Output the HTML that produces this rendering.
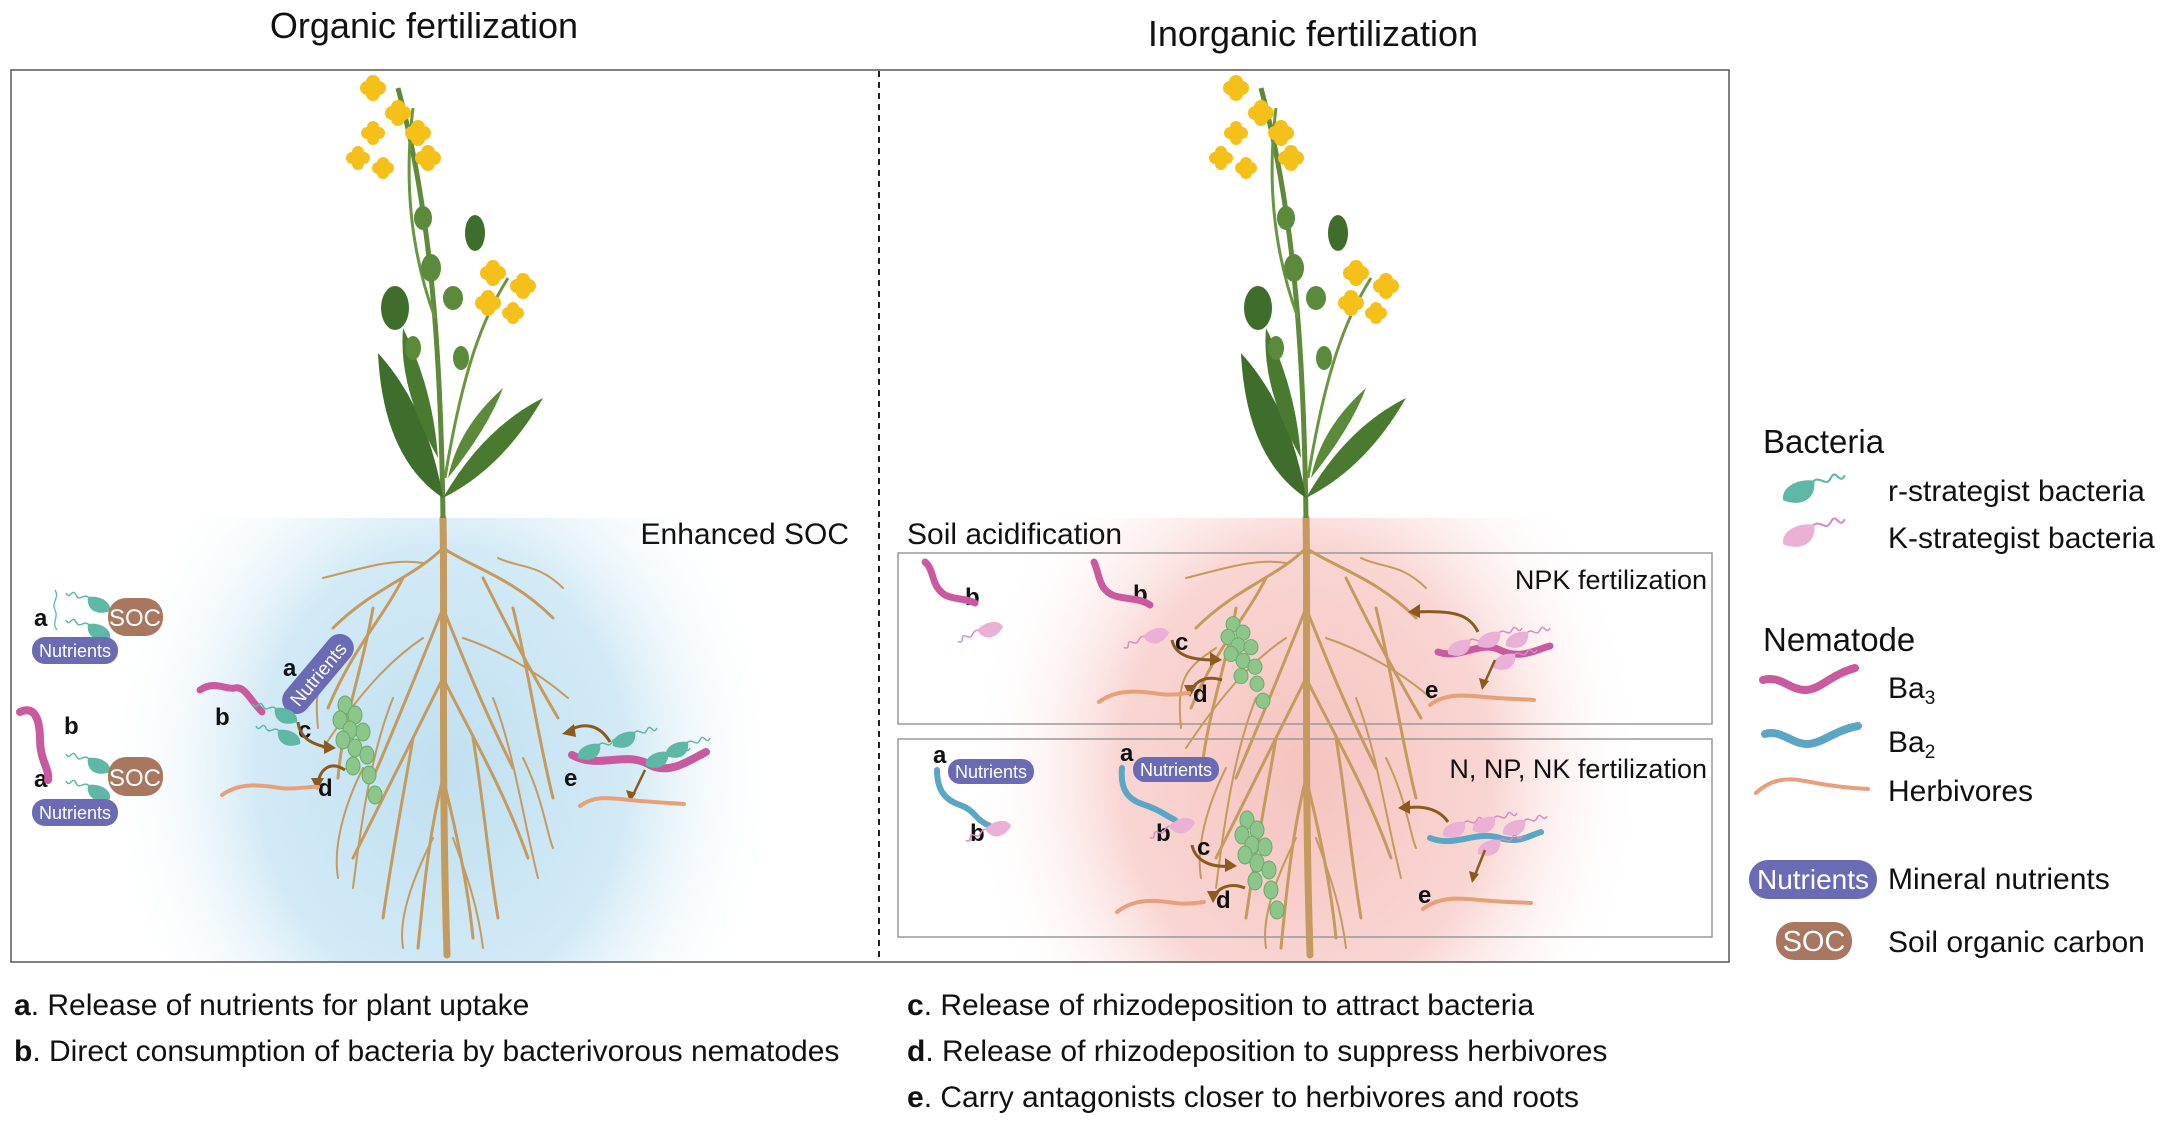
<!DOCTYPE html>
<html><head><meta charset="utf-8"><style>
html,body{margin:0;padding:0;background:#fff;}
svg{display:block;font-family:"Liberation Sans",Arial,sans-serif;}
</style></head><body>
<svg width="2167" height="1125" viewBox="0 0 2167 1125" xmlns="http://www.w3.org/2000/svg">
<defs>
<radialGradient id="gb" cx="442" cy="770" r="340" gradientUnits="userSpaceOnUse" gradientTransform="translate(442 770) scale(1 1.2) translate(-442 -770)">
<stop offset="0" stop-color="#bfe0f1"/><stop offset="0.55" stop-color="#d3eaf6"/><stop offset="1" stop-color="#ffffff" stop-opacity="0"/></radialGradient>
<radialGradient id="gp" cx="1306" cy="770" r="340" gradientUnits="userSpaceOnUse" gradientTransform="translate(1306 770) scale(1 1.2) translate(-1306 -770)">
<stop offset="0" stop-color="#f6c3c0"/><stop offset="0.55" stop-color="#f9d6d3"/><stop offset="1" stop-color="#ffffff" stop-opacity="0"/></radialGradient>
<g id="roots" fill="none" stroke="#c49a5e" stroke-linecap="round">
<path d="M0,0 C2,100 -2,250 4,437" stroke-width="7"/>
<g stroke-width="3">
<path d="M0,30 C-30,60 -70,70 -110,110"/><path d="M0,30 C30,50 70,60 110,100"/>
<path d="M-40,60 C-60,100 -90,130 -115,190"/><path d="M40,60 C60,100 80,140 115,200"/>
<path d="M0,90 C-20,140 -40,190 -70,260"/><path d="M0,90 C20,140 40,190 70,250"/>
<path d="M-70,90 C-80,150 -100,200 -105,260"/><path d="M70,90 C85,150 95,220 110,280"/>
<path d="M0,160 C-30,220 -60,280 -90,340"/><path d="M0,160 C30,220 60,270 85,340"/>
<path d="M-30,220 C-40,280 -50,330 -60,400"/><path d="M30,220 C40,280 45,340 55,400"/>
<path d="M0,260 C-15,320 -20,380 -25,430"/><path d="M0,260 C15,320 25,370 30,420"/>
</g>
<g stroke-width="2">
<path d="M-90,130 C-120,150 -130,160 -125,210"/><path d="M55,40 C75,50 95,45 120,70"/>
<path d="M-20,45 C-50,40 -80,50 -120,60"/><path d="M20,120 C50,130 90,150 125,180"/>
<path d="M-20,120 C-50,140 -80,170 -120,230"/><path d="M-50,180 C-70,230 -80,290 -90,370"/>
<path d="M50,180 C70,230 80,300 95,360"/><path d="M-10,320 C-30,360 -45,400 -40,430"/>
<path d="M10,320 C25,360 35,390 40,430"/><path d="M-80,250 C-100,290 -110,330 -105,360"/>
<path d="M80,240 C100,280 105,320 110,330"/>
</g></g>
<g id="shoot">
<path d="M0,0 C-2,-150 -10,-300 -45,-430" stroke="#5e8a3a" stroke-width="5" fill="none"/>
<path d="M2,-40 C20,-150 40,-200 65,-240" stroke="#6a9640" stroke-width="3" fill="none"/>
<path d="M-8,-200 C-30,-260 -40,-330 -30,-410" stroke="#6a9640" stroke-width="3" fill="none"/>
<path d="M0,-20 Q-60,-60 -65,-165 Q-15,-110 0,-20Z" fill="#3f6e2c"/>
<path d="M0,-20 Q60,-50 100,-120 Q40,-90 0,-20Z" fill="#4a7a30"/>
<path d="M5,-40 Q45,-90 60,-130 Q15,-90 5,-40Z" fill="#5a8a3a"/>
<path d="M-5,-60 Q-45,-130 -40,-190 Q-10,-130 -5,-60Z" fill="#4a7a30"/>
<ellipse cx="-48" cy="-210" rx="14" ry="22" fill="#3f6e2c"/>
<ellipse cx="32" cy="-285" rx="10" ry="18" fill="#3f6e2c"/>
<ellipse cx="-12" cy="-250" rx="10" ry="14" fill="#5a8a3a"/>
<ellipse cx="10" cy="-220" rx="10" ry="12" fill="#5a8a3a"/>
<ellipse cx="-20" cy="-300" rx="9" ry="12" fill="#5a8a3a"/>
<ellipse cx="-30" cy="-170" rx="8" ry="12" fill="#5a8a3a"/>
<ellipse cx="18" cy="-160" rx="8" ry="12" fill="#5a8a3a"/>
<g fill="#f5c01a">
<g transform="translate(-70,-430)"><circle cx="-6" cy="0" r="7"/><circle cx="6" cy="0" r="7"/><circle cx="0" cy="-6" r="7"/><circle cx="0" cy="6" r="7"/></g>
<g transform="translate(-45,-405)"><circle cx="-6" cy="0" r="7"/><circle cx="6" cy="0" r="7"/><circle cx="0" cy="-6" r="7"/><circle cx="0" cy="6" r="7"/></g>
<g transform="translate(-70,-385)"><circle cx="-6" cy="0" r="6"/><circle cx="6" cy="0" r="6"/><circle cx="0" cy="-6" r="6"/><circle cx="0" cy="6" r="6"/></g>
<g transform="translate(-25,-385)"><circle cx="-6" cy="0" r="7"/><circle cx="6" cy="0" r="7"/><circle cx="0" cy="-6" r="7"/><circle cx="0" cy="6" r="7"/></g>
<g transform="translate(-85,-360)"><circle cx="-6" cy="0" r="6"/><circle cx="6" cy="0" r="6"/><circle cx="0" cy="-6" r="6"/><circle cx="0" cy="6" r="6"/></g>
<g transform="translate(-15,-360)"><circle cx="-6" cy="0" r="7"/><circle cx="6" cy="0" r="7"/><circle cx="0" cy="-6" r="7"/><circle cx="0" cy="6" r="7"/></g>
<g transform="translate(-60,-350)"><circle cx="-5" cy="0" r="6"/><circle cx="5" cy="0" r="6"/><circle cx="0" cy="-5" r="6"/><circle cx="0" cy="5" r="6"/></g>
<g transform="translate(50,-245)"><circle cx="-6" cy="0" r="7"/><circle cx="6" cy="0" r="7"/><circle cx="0" cy="-6" r="7"/><circle cx="0" cy="6" r="7"/></g>
<g transform="translate(80,-232)"><circle cx="-6" cy="0" r="7"/><circle cx="6" cy="0" r="7"/><circle cx="0" cy="-6" r="7"/><circle cx="0" cy="6" r="7"/></g>
<g transform="translate(45,-215)"><circle cx="-6" cy="0" r="7"/><circle cx="6" cy="0" r="7"/><circle cx="0" cy="-6" r="7"/><circle cx="0" cy="6" r="7"/></g>
<g transform="translate(70,-205)"><circle cx="-5" cy="0" r="6"/><circle cx="5" cy="0" r="6"/><circle cx="0" cy="-5" r="6"/><circle cx="0" cy="5" r="6"/></g>
</g></g>
<g id="rbac"><path d="M8,-6 c6,-8 10,4 14,-4 s6,6 10,-2" stroke="#5fb8a6" stroke-width="1.5" fill="none"/><path d="M-12,6 C-14,-4 0,-10 10,-8 C12,2 4,12 -12,6Z" fill="#5fb8a6"/></g>
<g id="kbac"><path d="M8,-6 c6,-8 10,4 14,-4 s6,6 10,-2" stroke="#d98cc0" stroke-width="1.5" fill="none"/><path d="M-12,6 C-14,-4 0,-10 10,-8 C12,2 4,12 -12,6Z" fill="#eab0d6"/></g>
<g id="clu" fill="#8cc68a" stroke="#6aa86a" stroke-width="1"><ellipse cx="10" cy="5" rx="7" ry="9"/><ellipse cx="20" cy="15" rx="7" ry="9"/><ellipse cx="5" cy="20" rx="7" ry="9"/><ellipse cx="15" cy="30" rx="7" ry="9"/><ellipse cx="28" cy="32" rx="7" ry="9"/><ellipse cx="8" cy="40" rx="7" ry="9"/><ellipse cx="20" cy="48" rx="7" ry="9"/><ellipse cx="32" cy="55" rx="7" ry="9"/><ellipse cx="18" cy="66" rx="7" ry="9"/><ellipse cx="34" cy="75" rx="7" ry="9"/><ellipse cx="40" cy="95" rx="7" ry="9"/></g>
</defs>
<rect x="12" y="518" width="866" height="443" fill="url(#gb)"/>
<rect x="880" y="518" width="848" height="443" fill="url(#gp)"/>
<rect x="11" y="70" width="1718" height="892" fill="none" stroke="#555" stroke-width="1.5"/>
<line x1="879" y1="71" x2="879" y2="961" stroke="#222" stroke-width="2" stroke-dasharray="6,5"/>
<rect x="898" y="553" width="814" height="171" fill="none" stroke="#999" stroke-width="1.5"/>
<rect x="898" y="739" width="814" height="198" fill="none" stroke="#999" stroke-width="1.5"/>
<use href="#roots" transform="translate(443,518)"/>
<use href="#shoot" transform="translate(443,518)"/>
<use href="#roots" transform="translate(1306,518)"/>
<use href="#shoot" transform="translate(1306,518)"/>
<g fill="#111" font-size="36" text-anchor="middle"><text x="424" y="38">Organic fertilization</text><text x="1313" y="46">Inorganic fertilization</text></g>
<g fill="#111" font-size="30"><text x="849" y="544" text-anchor="end">Enhanced SOC</text><text x="907" y="544">Soil acidification</text></g>
<g fill="#111" font-size="27" text-anchor="end"><text x="1707" y="589">NPK fertilization</text><text x="1707" y="778">N, NP, NK fertilization</text></g>
<g font-weight="bold" font-size="24" fill="#111">
<text x="34" y="626">a</text><text x="64" y="734">b</text><text x="34" y="787">a</text>
<text x="283" y="676">a</text><text x="215" y="725">b</text><text x="298" y="738">c</text><text x="318" y="796">d</text><text x="564" y="786">e</text>
</g>
<path d="M55,590 c5,8 -4,12 0,20 s-4,12 2,20" stroke="#5fb8a6" stroke-width="1.3" fill="none"/>
<use href="#rbac" transform="translate(98,605) scale(-1,1)"/><use href="#rbac" transform="translate(98,632) scale(-1,1)"/>
<rect x="108" y="598" width="55" height="38" rx="18" fill="#a9775f"/><text x="135" y="626" font-size="24" fill="#fff" text-anchor="middle">SOC</text>
<rect x="32" y="637" width="86" height="27" rx="13" fill="#6b6bb5"/><text x="75" y="657" font-size="18" fill="#fff" text-anchor="middle">Nutrients</text>
<path d="M20,712 C35,705 40,720 40,740 C40,760 50,770 48,780" stroke="#c95aa0" stroke-width="8" fill="none" stroke-linecap="round"/>
<use href="#rbac" transform="translate(98,766) scale(-1,1)"/><use href="#rbac" transform="translate(98,793) scale(-1,1)"/>
<rect x="108" y="757" width="55" height="39" rx="18" fill="#a9775f"/><text x="135" y="786" font-size="24" fill="#fff" text-anchor="middle">SOC</text>
<rect x="32" y="799" width="86" height="27" rx="13" fill="#6b6bb5"/><text x="75" y="819" font-size="18" fill="#fff" text-anchor="middle">Nutrients</text>
<g transform="translate(318,674) rotate(-50)"><rect x="-48" y="-14" width="96" height="28" rx="14" fill="#6b6bb5"/><text x="0" y="7" font-size="19" fill="#fff" text-anchor="middle">Nutrients</text></g>
<path d="M200,690 C215,680 225,690 235,688 C245,686 250,700 262,712" stroke="#c95aa0" stroke-width="7" fill="none" stroke-linecap="round"/>
<use href="#rbac" transform="translate(285,716) scale(-1,1)"/><use href="#rbac" transform="translate(288,738) scale(-1,1)"/>
<use href="#clu" transform="translate(335,700)"/>
<path d="M298,722 C300,740 315,745 330,748" stroke="#8a5a1e" stroke-width="3" fill="none"/><path d="M336,748 l-12,-8 l0,14z" fill="#8a5a1e"/>
<path d="M345,770 C330,760 320,770 318,783" stroke="#8a5a1e" stroke-width="3" fill="none"/><path d="M317,790 l-6,-12 l13,0z" fill="#8a5a1e"/>
<path d="M222,795 C240,782 260,785 280,788 C295,790 310,786 318,787" stroke="#e8a07a" stroke-width="4" fill="none" stroke-linecap="round"/>
<path d="M610,742 C600,725 585,722 570,730" stroke="#8a5a1e" stroke-width="3" fill="none"/><path d="M562,734 l12,-10 l2,13z" fill="#8a5a1e"/>
<path d="M572,755 C600,770 625,750 650,765 C670,775 690,760 706,752" stroke="#c95aa0" stroke-width="8" fill="none" stroke-linecap="round"/>
<use href="#rbac" transform="translate(590,752)"/><use href="#rbac" transform="translate(625,740)"/><use href="#rbac" transform="translate(658,760)"/><use href="#rbac" transform="translate(678,750)"/>
<path d="M645,770 L633,795" stroke="#8a5a1e" stroke-width="2.5"/><path d="M630,802 l-4,-12 l10,3z" fill="#8a5a1e"/>
<path d="M580,806 C595,795 610,798 630,800 C650,802 670,803 684,804" stroke="#e8a07a" stroke-width="4" fill="none" stroke-linecap="round"/>
<g font-weight="bold" font-size="24" fill="#111">
<text x="965" y="605">b</text><text x="1133" y="602">b</text><text x="1175" y="650">c</text><text x="1193" y="702">d</text><text x="1425" y="698">e</text>
<text x="933" y="763">a</text><text x="1120" y="761">a</text><text x="970" y="841">b</text><text x="1156" y="841">b</text><text x="1197" y="855">c</text><text x="1216" y="908">d</text><text x="1418" y="903">e</text>
</g>
<path d="M925,562 C935,570 930,585 945,595 C955,600 965,598 975,603" stroke="#c95aa0" stroke-width="7" fill="none" stroke-linecap="round"/>
<use href="#kbac" transform="translate(990,630) rotate(-40) scale(-1,1)"/>
<path d="M1094,562 C1100,575 1098,590 1115,596 C1130,600 1140,598 1150,605" stroke="#c95aa0" stroke-width="7" fill="none" stroke-linecap="round"/>
<use href="#kbac" transform="translate(1156,636) rotate(-40) scale(-1,1)"/>
<use href="#clu" transform="translate(1223,620) scale(1,0.85)"/>
<path d="M1172,640 C1175,655 1190,660 1215,660" stroke="#8a5a1e" stroke-width="3" fill="none"/><path d="M1222,660 l-12,-8 l0,14z" fill="#8a5a1e"/>
<path d="M1222,680 C1205,675 1195,682 1192,690" stroke="#8a5a1e" stroke-width="3" fill="none"/><path d="M1190,697 l-6,-12 l13,0z" fill="#8a5a1e"/>
<path d="M1099,702 C1115,690 1135,690 1160,694 C1175,696 1185,693 1189,693" stroke="#e8a07a" stroke-width="4" fill="none" stroke-linecap="round"/>
<path d="M1478,632 C1470,615 1455,610 1415,612" stroke="#8a5a1e" stroke-width="3" fill="none"/><path d="M1408,612 l12,-8 l0,14z" fill="#8a5a1e"/>
<path d="M1438,652 C1460,660 1480,640 1500,650 C1520,660 1535,650 1550,646" stroke="#c95aa0" stroke-width="7" fill="none" stroke-linecap="round"/>
<use href="#kbac" transform="translate(1460,648)"/><use href="#kbac" transform="translate(1490,640)"/><use href="#kbac" transform="translate(1518,640)"/><use href="#kbac" transform="translate(1505,662)"/>
<path d="M1495,660 L1485,682" stroke="#8a5a1e" stroke-width="2.5"/><path d="M1482,690 l-3,-12 l10,3z" fill="#8a5a1e"/>
<path d="M1430,705 C1445,693 1465,695 1485,697 C1505,699 1520,699 1534,700" stroke="#e8a07a" stroke-width="4" fill="none" stroke-linecap="round"/>
<rect x="948" y="759" width="86" height="25" rx="12" fill="#6b6bb5"/><text x="991" y="778" font-size="18" fill="#fff" text-anchor="middle">Nutrients</text>
<path d="M937,770 C937,790 945,800 960,805 C975,810 975,820 990,826" stroke="#5aa6c4" stroke-width="6" fill="none" stroke-linecap="round"/>
<use href="#kbac" transform="translate(998,829) rotate(-40) scale(-1,1)"/>
<rect x="1133" y="757" width="86" height="25" rx="12" fill="#6b6bb5"/><text x="1176" y="776" font-size="18" fill="#fff" text-anchor="middle">Nutrients</text>
<path d="M1122,768 C1120,790 1128,800 1145,805 C1160,810 1165,815 1175,820" stroke="#5aa6c4" stroke-width="6" fill="none" stroke-linecap="round"/>
<use href="#kbac" transform="translate(1182,826) rotate(-40) scale(-1,1)"/>
<use href="#clu" transform="translate(1237,815)"/>
<path d="M1192,845 C1195,860 1210,868 1230,866" stroke="#8a5a1e" stroke-width="3" fill="none"/><path d="M1237,866 l-12,-8 l0,14z" fill="#8a5a1e"/>
<path d="M1245,888 C1230,882 1218,888 1215,896" stroke="#8a5a1e" stroke-width="3" fill="none"/><path d="M1213,903 l-6,-12 l13,0z" fill="#8a5a1e"/>
<path d="M1117,912 C1135,898 1155,900 1175,903 C1190,905 1200,902 1204,902" stroke="#e8a07a" stroke-width="4" fill="none" stroke-linecap="round"/>
<path d="M1448,822 C1440,810 1425,805 1405,808" stroke="#8a5a1e" stroke-width="3" fill="none"/><path d="M1398,808 l12,-8 l0,14z" fill="#8a5a1e"/>
<path d="M1430,838 C1455,848 1475,830 1500,838 C1520,844 1530,835 1541,832" stroke="#5aa6c4" stroke-width="6" fill="none" stroke-linecap="round"/>
<use href="#kbac" transform="translate(1455,830)"/><use href="#kbac" transform="translate(1485,825)"/><use href="#kbac" transform="translate(1515,828)"/><use href="#kbac" transform="translate(1490,848)"/>
<path d="M1485,850 L1475,875" stroke="#8a5a1e" stroke-width="2.5"/><path d="M1472,883 l-3,-12 l10,3z" fill="#8a5a1e"/>
<path d="M1423,909 C1440,896 1460,898 1480,900 C1500,902 1515,902 1531,903" stroke="#e8a07a" stroke-width="4" fill="none" stroke-linecap="round"/>
<g fill="#111" font-size="33"><text x="1763" y="453">Bacteria</text><text x="1763" y="651">Nematode</text></g>
<g fill="#111" font-size="30">
<text x="1888" y="501">r-strategist bacteria</text><text x="1888" y="548">K-strategist bacteria</text>
<text x="1888" y="698">Ba<tspan font-size="19" dy="6">3</tspan></text><text x="1888" y="752">Ba<tspan font-size="19" dy="6">2</tspan></text>
<text x="1888" y="801">Herbivores</text><text x="1888" y="889">Mineral nutrients</text><text x="1888" y="952">Soil organic carbon</text>
</g>
<g transform="translate(1800,492) scale(1.4)"><use href="#rbac"/></g>
<g transform="translate(1800,536) scale(1.4)"><use href="#kbac"/></g>
<path d="M1763,680 C1780,675 1790,690 1805,690 C1820,690 1830,675 1855,668" stroke="#c95aa0" stroke-width="8" fill="none" stroke-linecap="round"/>
<path d="M1765,734 C1780,729 1792,744 1807,744 C1822,744 1835,730 1858,726" stroke="#5aa6c4" stroke-width="8" fill="none" stroke-linecap="round"/>
<path d="M1756,793 C1770,780 1785,777 1805,781 C1825,785 1845,788 1868,789" stroke="#e8a07a" stroke-width="4" fill="none" stroke-linecap="round"/>
<rect x="1749" y="860" width="128" height="39" rx="19" fill="#6b6bb5"/><text x="1813" y="889" font-size="28" fill="#fff" text-anchor="middle">Nutrients</text>
<rect x="1776" y="922" width="76" height="38" rx="18" fill="#a9775f"/><text x="1814" y="951" font-size="29" fill="#fff" text-anchor="middle">SOC</text>
<g fill="#111" font-size="30">
<text x="14" y="1015"><tspan font-weight="bold">a</tspan>. Release of nutrients for plant uptake</text>
<text x="14" y="1061"><tspan font-weight="bold">b</tspan>. Direct consumption of bacteria by bacterivorous nematodes</text>
<text x="907" y="1015"><tspan font-weight="bold">c</tspan>. Release of rhizodeposition to attract bacteria</text>
<text x="907" y="1061"><tspan font-weight="bold">d</tspan>. Release of rhizodeposition to suppress herbivores</text>
<text x="907" y="1107"><tspan font-weight="bold">e</tspan>. Carry antagonists closer to herbivores and roots</text>
</g>
</svg>
</body></html>
